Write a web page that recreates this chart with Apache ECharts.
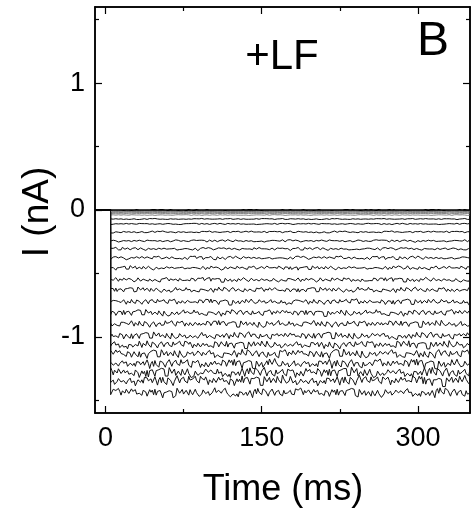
<!DOCTYPE html>
<html>
<head>
<meta charset="utf-8">
<script src="https://cdn.jsdelivr.net/npm/echarts@6/dist/echarts.min.js"></script>
<style>html,body{margin:0;padding:0;background:#fff}#c{width:471px;height:512px}</style>
</head>
<body>
<div id="c"></div>
<script>
// Steady-state levels of each current trace (nA)
var levels = [0, -0.004, -0.008, -0.013, -0.019, -0.028, -0.04, -0.071, -0.11, -0.173, -0.244, -0.307, -0.378, -0.457, -0.551, -0.63, -0.724, -0.811, -0.898, -0.992, -1.063, -1.134, -1.213, -1.283, -1.346, -1.441];
// Estimated half-amplitude of the noise on each trace (nA)
var amps = [0.001, 0.001, 0.001, 0.0015, 0.0015, 0.002, 0.003, 0.004, 0.005, 0.007, 0.009, 0.011, 0.013, 0.015, 0.017, 0.019, 0.021, 0.023, 0.025, 0.027, 0.029, 0.031, 0.035, 0.037, 0.038, 0.033];
// Hand-estimated noise shape (normalised)
var noise = [0.3,-0.5,0.8,-0.2,-0.9,0.4,0.1,-0.6,0.7,0.2,-0.3,0.9,-0.7,0.0,0.5,-0.4,-0.8,0.6,0.3,-0.1,
0.8,-0.6,0.2,0.4,-0.9,-0.2,0.6,0.1,-0.5,0.7,-0.3,0.9,-0.1,-0.7,0.4,0.2,-0.6,0.5,-0.2,0.8,
-0.4,0.1,0.6,-0.8,0.3,-0.5,0.7,0.0,-0.3,0.9,-0.6,0.2,0.5,-0.9,0.4,-0.1,0.8,-0.4,0.1,-0.7,
0.6,0.3,-0.2,0.7,-0.8,0.5,-0.3,0.1,0.9,-0.5,0.2,-0.6,0.4,0.8,-0.2,-0.9,0.3,0.6,-0.4,0.0,
0.7,-0.7,0.2,0.5,-0.1,-0.6,0.9,-0.3,0.4,-0.8,0.1,0.6,-0.5,0.3,0.8,-0.2,-0.7,0.5,0.0,-0.4,
0.9,-0.6,0.3,-0.1,0.6,-0.9,0.2,0.7,-0.3,0.4,-0.5,0.1,0.8,-0.7,0.5,-0.2,0.3,-0.8,0.6,0.0,
-0.4,0.7,-0.1,0.5,-0.6,0.9,-0.3,0.2,-0.7,0.4,0.6,-0.5,0.1,-0.8,0.3,0.7,-0.2,-0.6,0.5,-0.1];
// Hand-estimated slow wander (normalised), one value per 12.5 ms
var wander = [0.2,-0.3,0.1,0.5,-0.2,-0.6,0.3,0.4,-0.1,-0.5,0.6,0.0,-0.4,0.3,0.5,-0.2,0.1,-0.6,0.4,-0.1,0.2,0.6,-0.3,-0.5,0.3,0.0,-0.2,0.5];
var tStart = 5, tEnd = 350, tStep = 1.25;
var xMajor = [0, 150, 300];
var xMinor = [75, 225];
var yMajor = [-1, 0, 1];
var yMinor = [-1.5, -0.5, 0.5, 1.5];

var FONT = '"Liberation Sans", Arial, sans-serif';
var series = levels.map(function (lv, k) {
  var data = [[-10, 0], [4.9, 0]];
  var n = 0;
  for (var t = tStart; t <= tEnd + 0.001; t += tStep) {
    var v = noise[(n * 11 + k * 37) % noise.length];
    var w = wander[(Math.floor(n / 10) + k * 5) % wander.length];
    data.push([t, lv + amps[k] * (v + 0.5 * w)]);
    n++;
  }
  var color = k === 0 ? '#000' : (k < 7 ? '#666' : '#111');
  var width = k === 0 ? 1.6 : (k < 7 ? 0.8 : 1.0);
  return {
    type: 'line', xAxisIndex: 0, yAxisIndex: 0, data: data,
    symbol: 'none', silent: true, animation: false, z: k === 0 ? 3 : 2,
    lineStyle: { color: color, width: width }
  };
});

function xAx(pos, vals, len, labels) {
  return {
    type: 'value', position: pos, min: -10, max: 350,
    axisLine: { show: true, onZero: false, lineStyle: { color: '#000', width: 1.5 } },
    axisTick: { show: true, inside: true, length: len, customValues: vals, lineStyle: { color: '#000', width: 1.2 } },
    axisLabel: labels ? { show: true, customValues: vals, margin: 12, color: '#000', fontSize: 27, fontFamily: FONT } : { show: false },
    splitLine: { show: false }
  };
}
function yAx(pos, vals, len, labels) {
  return {
    type: 'value', position: pos, min: -1.6, max: 1.6,
    axisLine: { show: true, onZero: false, lineStyle: { color: '#000', width: 1.5 } },
    axisTick: { show: true, inside: true, length: len, customValues: vals, lineStyle: { color: '#000', width: 1.2 } },
    axisLabel: labels ? { show: true, customValues: vals, margin: 10, color: '#000', fontSize: 27, fontFamily: FONT } : { show: false },
    splitLine: { show: false }
  };
}

var chart = echarts.init(document.getElementById('c'), null, { renderer: 'canvas' });
chart.setOption({
  animation: false,
  backgroundColor: '#fff',
  grid: { left: 95, top: 7, right: 1, bottom: 99, containLabel: false },
  xAxis: [
    xAx('bottom', xMajor, 7, true),
    xAx('bottom', xMinor, 4, false),
    xAx('top', xMajor, 7, false),
    xAx('top', xMinor, 4, false)
  ],
  yAxis: [
    yAx('left', yMajor, 7, true),
    yAx('left', yMinor, 4, false),
    yAx('right', yMajor, 7, false),
    yAx('right', yMinor, 4, false)
  ],
  series: series,
  graphic: [
    { type: 'text', x: 282, y: 57, style: { text: '+LF', font: '42px ' + FONT, fill: '#000', textAlign: 'center', textVerticalAlign: 'middle' } },
    { type: 'text', x: 433, y: 42, style: { text: 'B', font: '48px ' + FONT, fill: '#000', textAlign: 'center', textVerticalAlign: 'middle' } },
    { type: 'text', x: 38, y: 212, rotation: Math.PI / 2, style: { text: 'I (nA)', font: '37px ' + FONT, fill: '#000', textAlign: 'center', textVerticalAlign: 'middle' } },
    { type: 'text', x: 283, y: 490, style: { text: 'Time (ms)', font: '36px ' + FONT, fill: '#000', textAlign: 'center', textVerticalAlign: 'middle' } }
  ]
});
</script>
</body>
</html>
